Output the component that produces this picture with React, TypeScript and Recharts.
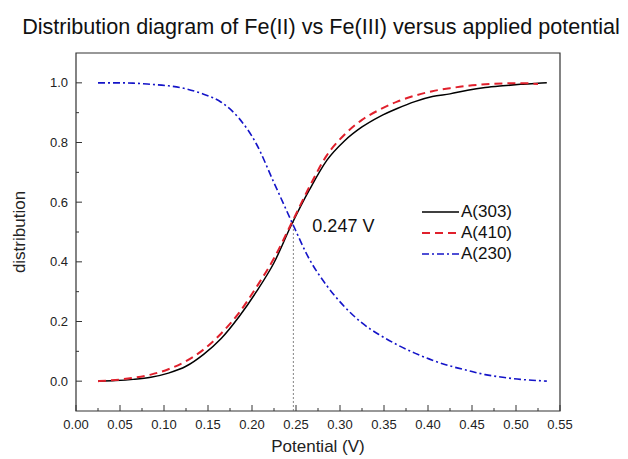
import { LineChart, Line, XAxis, YAxis, ReferenceLine, ReferenceDot, ReferenceArea, Legend, Label } from 'recharts';

const FONT = '"Liberation Sans", Arial, sans-serif';

// applied potential (V)
const potential = [
  0.025, 0.045, 0.065, 0.085, 0.105, 0.125, 0.145, 0.165, 0.185, 0.205, 0.225, 0.245, 0.265, 0.285,
  0.305, 0.325, 0.345, 0.365, 0.385, 0.405, 0.425, 0.445, 0.465, 0.485, 0.505, 0.525, 0.535,
];

// normalised absorbance at 303 nm
const a303 = [
  0.0, 0.002, 0.006, 0.013, 0.027, 0.05, 0.09, 0.143, 0.215, 0.3, 0.397, 0.525, 0.64, 0.74,
  0.805, 0.852, 0.887, 0.914, 0.937, 0.954, 0.963, 0.975, 0.984, 0.99, 0.995, 0.999, 1.0,
];

// normalised absorbance at 410 nm
const a410 = [
  0.0, 0.004, 0.011, 0.022, 0.04, 0.067, 0.106, 0.16, 0.228, 0.315, 0.412, 0.53, 0.65, 0.757,
  0.826, 0.876, 0.91, 0.937, 0.957, 0.972, 0.982, 0.99, 0.995, 0.998, 0.999, 0.996, null,
];

// normalised absorbance at 230 nm
const a230 = [
  1.0, 1.0, 0.999, 0.995, 0.99, 0.98, 0.962, 0.935, 0.882, 0.795, 0.665, 0.535, 0.41, 0.32,
  0.25, 0.195, 0.155, 0.122, 0.094, 0.07, 0.051, 0.036, 0.022, 0.013, 0.006, 0.002, 0.0,
];

const seriesNames = ['A(303)', 'A(410)', 'A(230)'];

const xTicks = [
  0, 0.025, 0.05, 0.075, 0.1, 0.125, 0.15, 0.175, 0.2, 0.225, 0.25, 0.275, 0.3, 0.325, 0.35,
  0.375, 0.4, 0.425, 0.45, 0.475, 0.5, 0.525, 0.55,
];
const yTicks = [0, 0.1, 0.2, 0.3, 0.4, 0.5, 0.6, 0.7, 0.8, 0.9, 1.0];

const crossing = 0.247;
const crossingLevel = 0.535;

const data = potential.map((x, i) => ({ x, a303: a303[i], a410: a410[i], a230: a230[i] }));

// ticks point into the plot, labels only on the major ones
const XTick = (props: any) => {
  const { x, y, payload } = props;
  const major = Math.round(payload.value * 1000) % 50 === 0;
  return (
    <g>
      <line x1={x} x2={x} y1={y} y2={y - (major ? 6 : 3)} stroke="#333" strokeWidth={1} />
      {major && (
        <text x={x} y={y + 18} textAnchor="middle" fontSize={13} fontFamily={FONT} fill="#222">
          {payload.value.toFixed(2)}
        </text>
      )}
    </g>
  );
};

const YTick = (props: any) => {
  const { x, y, payload } = props;
  const major = Math.round(payload.value * 10) % 2 === 0;
  return (
    <g>
      <line x1={x} x2={x + (major ? 6 : 3)} y1={y} y2={y} stroke="#333" strokeWidth={1} />
      {major && (
        <text x={x - 8} y={y + 4.5} textAnchor="end" fontSize={13} fontFamily={FONT} fill="#222">
          {payload.value.toFixed(1)}
        </text>
      )}
    </g>
  );
};

const renderLegend = ({ payload }: any) => (
  <div style={{ fontFamily: FONT, fontSize: 17, color: '#111' }}>
    {payload.map((entry: any) => (
      <div key={entry.value} style={{ display: 'flex', alignItems: 'center', height: 21 }}>
        <svg width={40} height={10}>
          <line
            x1={1}
            x2={38}
            y1={5}
            y2={5}
            stroke={entry.color}
            strokeWidth={entry.payload.strokeWidth}
            strokeDasharray={entry.payload.strokeDasharray}
          />
        </svg>
        <span>{entry.value}</span>
      </div>
    ))}
  </div>
);

const renderYLabel = ({ viewBox }: any) => {
  const cx = viewBox.x + 3;
  const cy = viewBox.y + viewBox.height / 2;
  return (
    <text
      x={cx}
      y={cy}
      transform={`rotate(-90 ${cx} ${cy})`}
      textAnchor="middle"
      dominantBaseline="central"
      fontSize={17}
      fontFamily={FONT}
      fill="#222"
    >
      distribution
    </text>
  );
};

export default function App() {
  return (
    <div style={{ position: 'absolute', left: 0, top: 0, width: 628, height: 459, background: '#fff' }}>
      <div
        style={{
          position: 'absolute',
          left: 0,
          width: 642,
          top: 15,
          textAlign: 'center',
          fontFamily: FONT,
          fontSize: 21.6,
          lineHeight: '24px',
          color: '#111',
          whiteSpace: 'nowrap',
        }}
      >
        Distribution diagram of Fe(II) vs Fe(III) versus applied potential
      </div>
      <LineChart width={628} height={459} data={data} margin={{ top: 53, right: 68, bottom: 0, left: 16 }}>
        <ReferenceArea x1={0} x2={0.55} y1={-0.1} y2={1.1} fill="none" stroke="#333" strokeWidth={1.2} />
        <XAxis
          type="number"
          dataKey="x"
          domain={[0, 0.55]}
          ticks={xTicks}
          interval={0}
          allowDataOverflow
          axisLine={false}
          tickLine={false}
          tickSize={0}
          tickMargin={0}
          tick={XTick}
          height={48}
        >
          <Label
            value="Potential (V)"
            position="insideBottom"
            offset={7}
            fontSize={17}
            fontFamily={FONT}
            fill="#222"
          />
        </XAxis>
        <YAxis
          type="number"
          domain={[-0.1, 1.1]}
          ticks={yTicks}
          interval={0}
          allowDataOverflow
          axisLine={false}
          tickLine={false}
          tickSize={0}
          tickMargin={0}
          tick={YTick}
          width={60}
        >
          <Label content={renderYLabel} />
        </YAxis>
        <ReferenceLine
          segment={[
            { x: crossing, y: -0.1 },
            { x: crossing, y: crossingLevel },
          ]}
          stroke="#666"
          strokeWidth={0.8}
          strokeDasharray="2 2"
        />
        <Line
          dataKey="a303"
          name={seriesNames[0]}
          type="monotone"
          stroke="#000"
          strokeWidth={1.5}
          dot={false}
          isAnimationActive={false}
        />
        <Line
          dataKey="a410"
          name={seriesNames[1]}
          type="monotone"
          stroke="#e0202c"
          strokeWidth={2}
          strokeDasharray="8 5"
          dot={false}
          isAnimationActive={false}
        />
        <Line
          dataKey="a230"
          name={seriesNames[2]}
          type="monotone"
          stroke="#1414c8"
          strokeWidth={1.6}
          strokeDasharray="7 3 2 3"
          dot={false}
          isAnimationActive={false}
        />
        <ReferenceDot x={crossing} y={crossingLevel} r={0} fill="none" stroke="none">
          <Label value="0.247 V" position="right" offset={19} dy={4} fontSize={18} fontFamily={FONT} fill="#111" />
        </ReferenceDot>
        <Legend
          layout="vertical"
          align="center"
          verticalAlign="middle"
          content={renderLegend}
          itemSorter={(item: any) => seriesNames.indexOf(item.value)}
          wrapperStyle={{ left: 421, top: 201, width: 120 }}
        />
      </LineChart>
    </div>
  );
}
